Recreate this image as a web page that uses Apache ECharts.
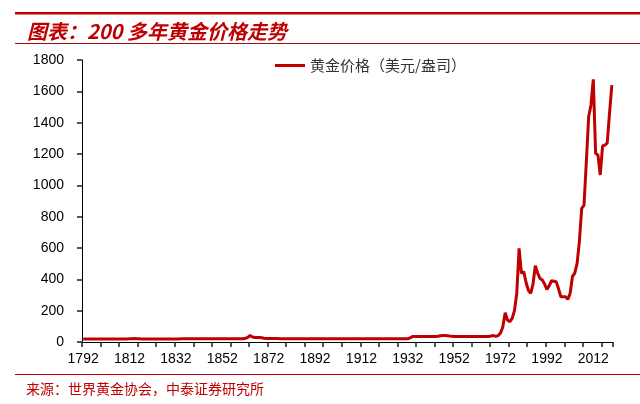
<!DOCTYPE html>
<html><head><meta charset="utf-8">
<script src="https://cdn.jsdelivr.net/npm/echarts@6/dist/echarts.min.js"></script>
<style>html,body{margin:0;padding:0;background:#fff}#c{width:640px;height:404px}</style>
</head><body><div id="c"></div>
<script>
var titleText = '图表：200 多年黄金价格走势';
var sourceText = '来源：世界黄金协会，中泰证券研究所';
var seriesName = '黄金价格（美元/盎司）';
var yTicks = [0, 200, 400, 600, 800, 1000, 1200, 1400, 1600, 1800];

// years 1792..2020
var years = [];
for (var y = 1792; y <= 2020; y++) years.push(String(y));

var price1792_1833 = [19.39,19.39,19.39,19.39,19.39,19.39,19.39,19.39,19.39,19.39,
  19.39,19.39,19.39,19.39,19.39,19.39,19.39,19.39,19.39,19.39,
  20.5,21.5,22,21.5,20.5,
  19.39,19.39,19.39,19.39,19.39,19.39,19.39,19.39,19.39,19.39,19.39,19.39,19.39,19.39,19.39,19.39,19.39];
var price1834_1861 = [20.67,20.67,20.67,20.67,20.67,20.67,20.67,20.67,20.67,20.67,
  20.67,20.67,20.67,20.67,20.67,20.67,20.67,20.67,20.67,20.67,
  20.67,20.67,20.67,20.67,20.67,20.67,20.67,20.67];
var price1862_1878 = [24,30,42,32,29,28,29,27,24,23,23,23,23,23,23,21,21];
var price1879_1933 = [20.67,20.67,20.67,20.67,20.67,20.67,20.67,20.67,20.67,20.67,
  20.67,20.67,20.67,20.67,20.67,20.67,20.67,20.67,20.67,20.67,
  20.67,20.67,20.67,20.67,20.67,20.67,20.67,20.67,20.67,20.67,
  20.67,20.67,20.67,20.67,20.67,20.67,20.67,20.67,20.67,20.67,
  20.67,20.67,20.67,20.67,20.67,20.67,20.67,20.67,20.67,20.67,
  20.67,20.67,20.67,20.67,26];
var price1934_1967 = [35,35,35,35,35,35,35,35,35,35,35,
  37,40,42,42,40,38,37,
  35,35,35,35,35,35,35,35,35,35,35,35,35,35,35,35];
var price1968_2020 = [39,41,36,41,58,97,187,140,130,150,
  200,310,598,438,449,380,330,311,370,487,
  440,406,396,370,336,360,391,388,385,340,
  289,289,289,272,310,417,440,500,640,853,
  874,1150,1438,1513,1677,1204,1194,1066,1251,1257,
  1270,1460,1640];

var prices = [].concat(price1792_1833, price1834_1861, price1862_1878, price1879_1933, price1934_1967, price1968_2020);

var red = '#C00000';
var chart = echarts.init(document.getElementById('c'), null, {renderer: 'canvas'});
chart.setOption({
  animation: false,
  backgroundColor: '#fff',
  title: {
    text: titleText, left: 22, top: 16,
    textStyle: {color: red, fontSize: 20, fontWeight: 'bold', fontStyle: 'italic', fontFamily: 'Noto Sans CJK SC'}
  },
  legend: {
    data: [seriesName], left: 270, top: 53,
    icon: 'rect', itemWidth: 30, itemHeight: 3, itemGap: 4,
    textStyle: {color: '#333', fontSize: 15, fontFamily: 'Noto Sans CJK SC'}
  },
  graphic: [
    {type: 'rect', shape: {x: 15, y: 12, width: 625, height: 2.5}, style: {fill: red}},
    {type: 'rect', shape: {x: 15, y: 43, width: 625, height: 1}, style: {fill: '#9a1010'}},
    {type: 'rect', shape: {x: 15, y: 374, width: 625, height: 1}, style: {fill: red}},
    {type: 'text', left: 26, top: 382, style: {text: sourceText, fill: red, fontSize: 14, fontFamily: 'Noto Sans CJK SC'}}
  ],
  grid: {left: 82, right: 27, top: 60, bottom: 62},
  xAxis: [{
    type: 'category', data: years, boundaryGap: true,
    axisLine: {lineStyle: {color: '#000', width: 1}},
    axisTick: {show: true, interval: 7, inside: false, length: 5, lineStyle: {color: '#222', width: 1.5, opacity: 1}},
    axisLabel: {interval: 19, color: '#000', fontSize: 14, margin: 10, fontFamily: 'Liberation Sans'}
  }],
  yAxis: {
    type: 'value', min: yTicks[0], max: yTicks[yTicks.length - 1], interval: 200,
    splitLine: {show: false},
    axisLine: {show: true, lineStyle: {color: '#000', width: 1}},
    axisTick: {show: true, inside: false, length: 5, lineStyle: {color: '#222', width: 1.5, opacity: 1}},
    axisLabel: {color: '#000', fontSize: 14, margin: 18, fontFamily: 'Liberation Sans',
      formatter: function (v) { return String(v); }}
  },
  series: [{
    name: seriesName, type: 'line', data: prices, showSymbol: false, symbol: 'none',
    lineStyle: {color: red, width: 3}, itemStyle: {color: red}
  }]
});
</script></body></html>
